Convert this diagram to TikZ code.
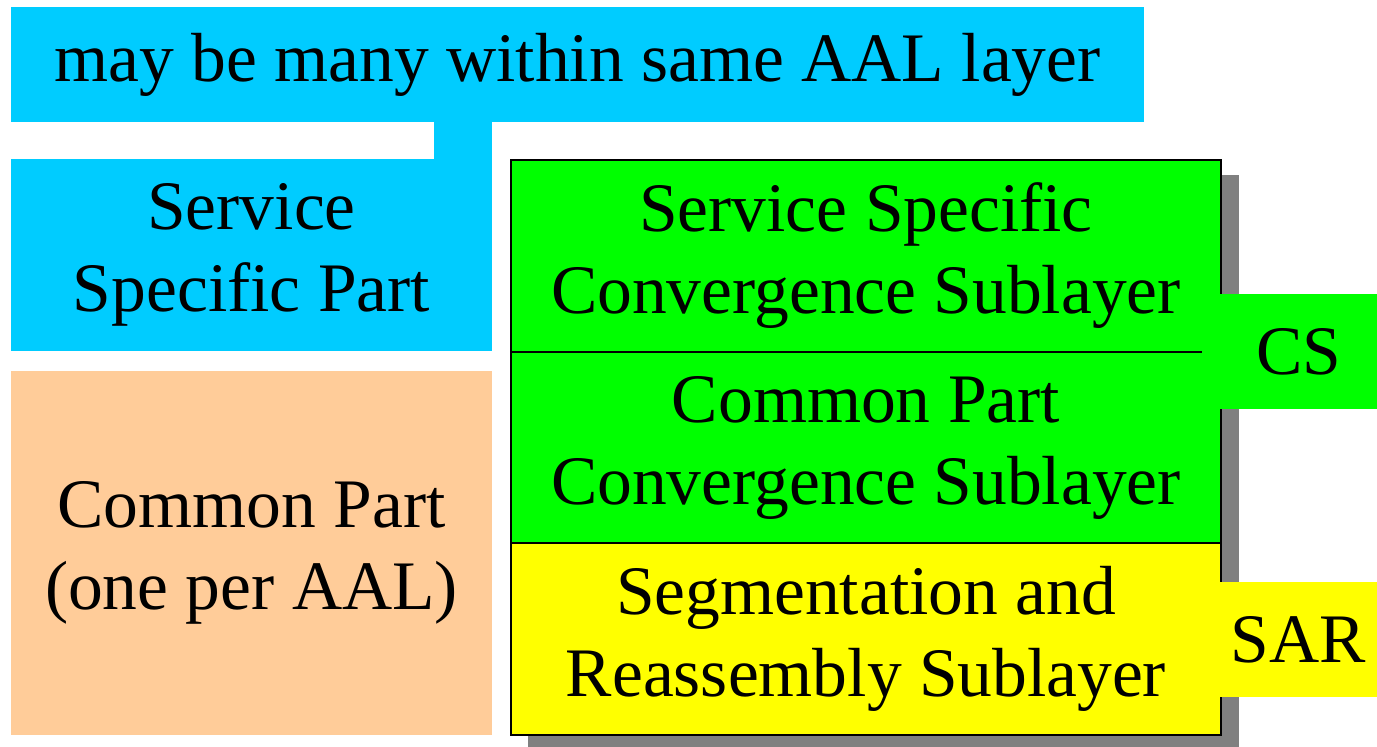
\documentclass[tikz,border=0pt]{standalone}
\usepackage{fontspec}
\setmainfont{Liberation Serif}
\definecolor{aalcyan}{HTML}{00CCFF}
\definecolor{aalpeach}{HTML}{FFCC99}
\definecolor{aalgreen}{HTML}{00FF00}
\definecolor{aalyellow}{HTML}{FFFF00}
\definecolor{aalshadow}{HTML}{808080}
\begin{document}
\begin{tikzpicture}[x=1pt,y=-1pt,
  cell/.style={inner sep=0pt, outer sep=0pt, anchor=north west, align=center,
    font=\fontsize{69.5}{82}\selectfont},
  border/.style={draw=black, line width=1.6pt}]
\useasboundingbox (0,0) rectangle (1377,747);
% top box and stem
\node[cell, fill=aalcyan, minimum width=1133pt, minimum height=115pt] (top) at (11,7)
  {may be many within same AAL layer};
\fill[aalcyan] (434,121) rectangle (492,160);
\node[cell, fill=aalcyan, minimum width=481pt, minimum height=192pt] (ssp) at (11,159)
  {Service\\Specific Part};
\node[cell, fill=aalpeach, minimum width=481pt, minimum height=364pt] (cp) at (11,371)
  {Common Part\\(one per AAL)};
% shadow
\fill[aalshadow] (528,175) rectangle (1239,750);
% stack
\node[cell, fill=aalgreen, minimum width=710pt, minimum height=192pt] (sscs) at (511,160)
  {Service Specific\\Convergence Sublayer};
\node[cell, fill=aalgreen, minimum width=710pt, minimum height=191pt] (cpcs) at (511,352)
  {Common Part\\Convergence Sublayer};
\node[cell, fill=aalyellow, minimum width=710pt, minimum height=192pt] (sar) at (511,543)
  {Segmentation and\\Reassembly Sublayer};
\draw[border] (sscs.north west) rectangle (sar.south east);
\draw[border] (sar.north west) -- (sar.north east);
\coordinate (lineend) at (1202,352);
\draw[border] (cpcs.north west) -- (lineend);
% side labels
\node[cell, fill=aalgreen, minimum width=157pt, minimum height=115pt] (cs) at (1220,294) {CS};
\node[cell, fill=aalyellow, minimum width=158pt, minimum height=115pt] (sarl) at (1219,582) {SAR};
\end{tikzpicture}
\end{document}
